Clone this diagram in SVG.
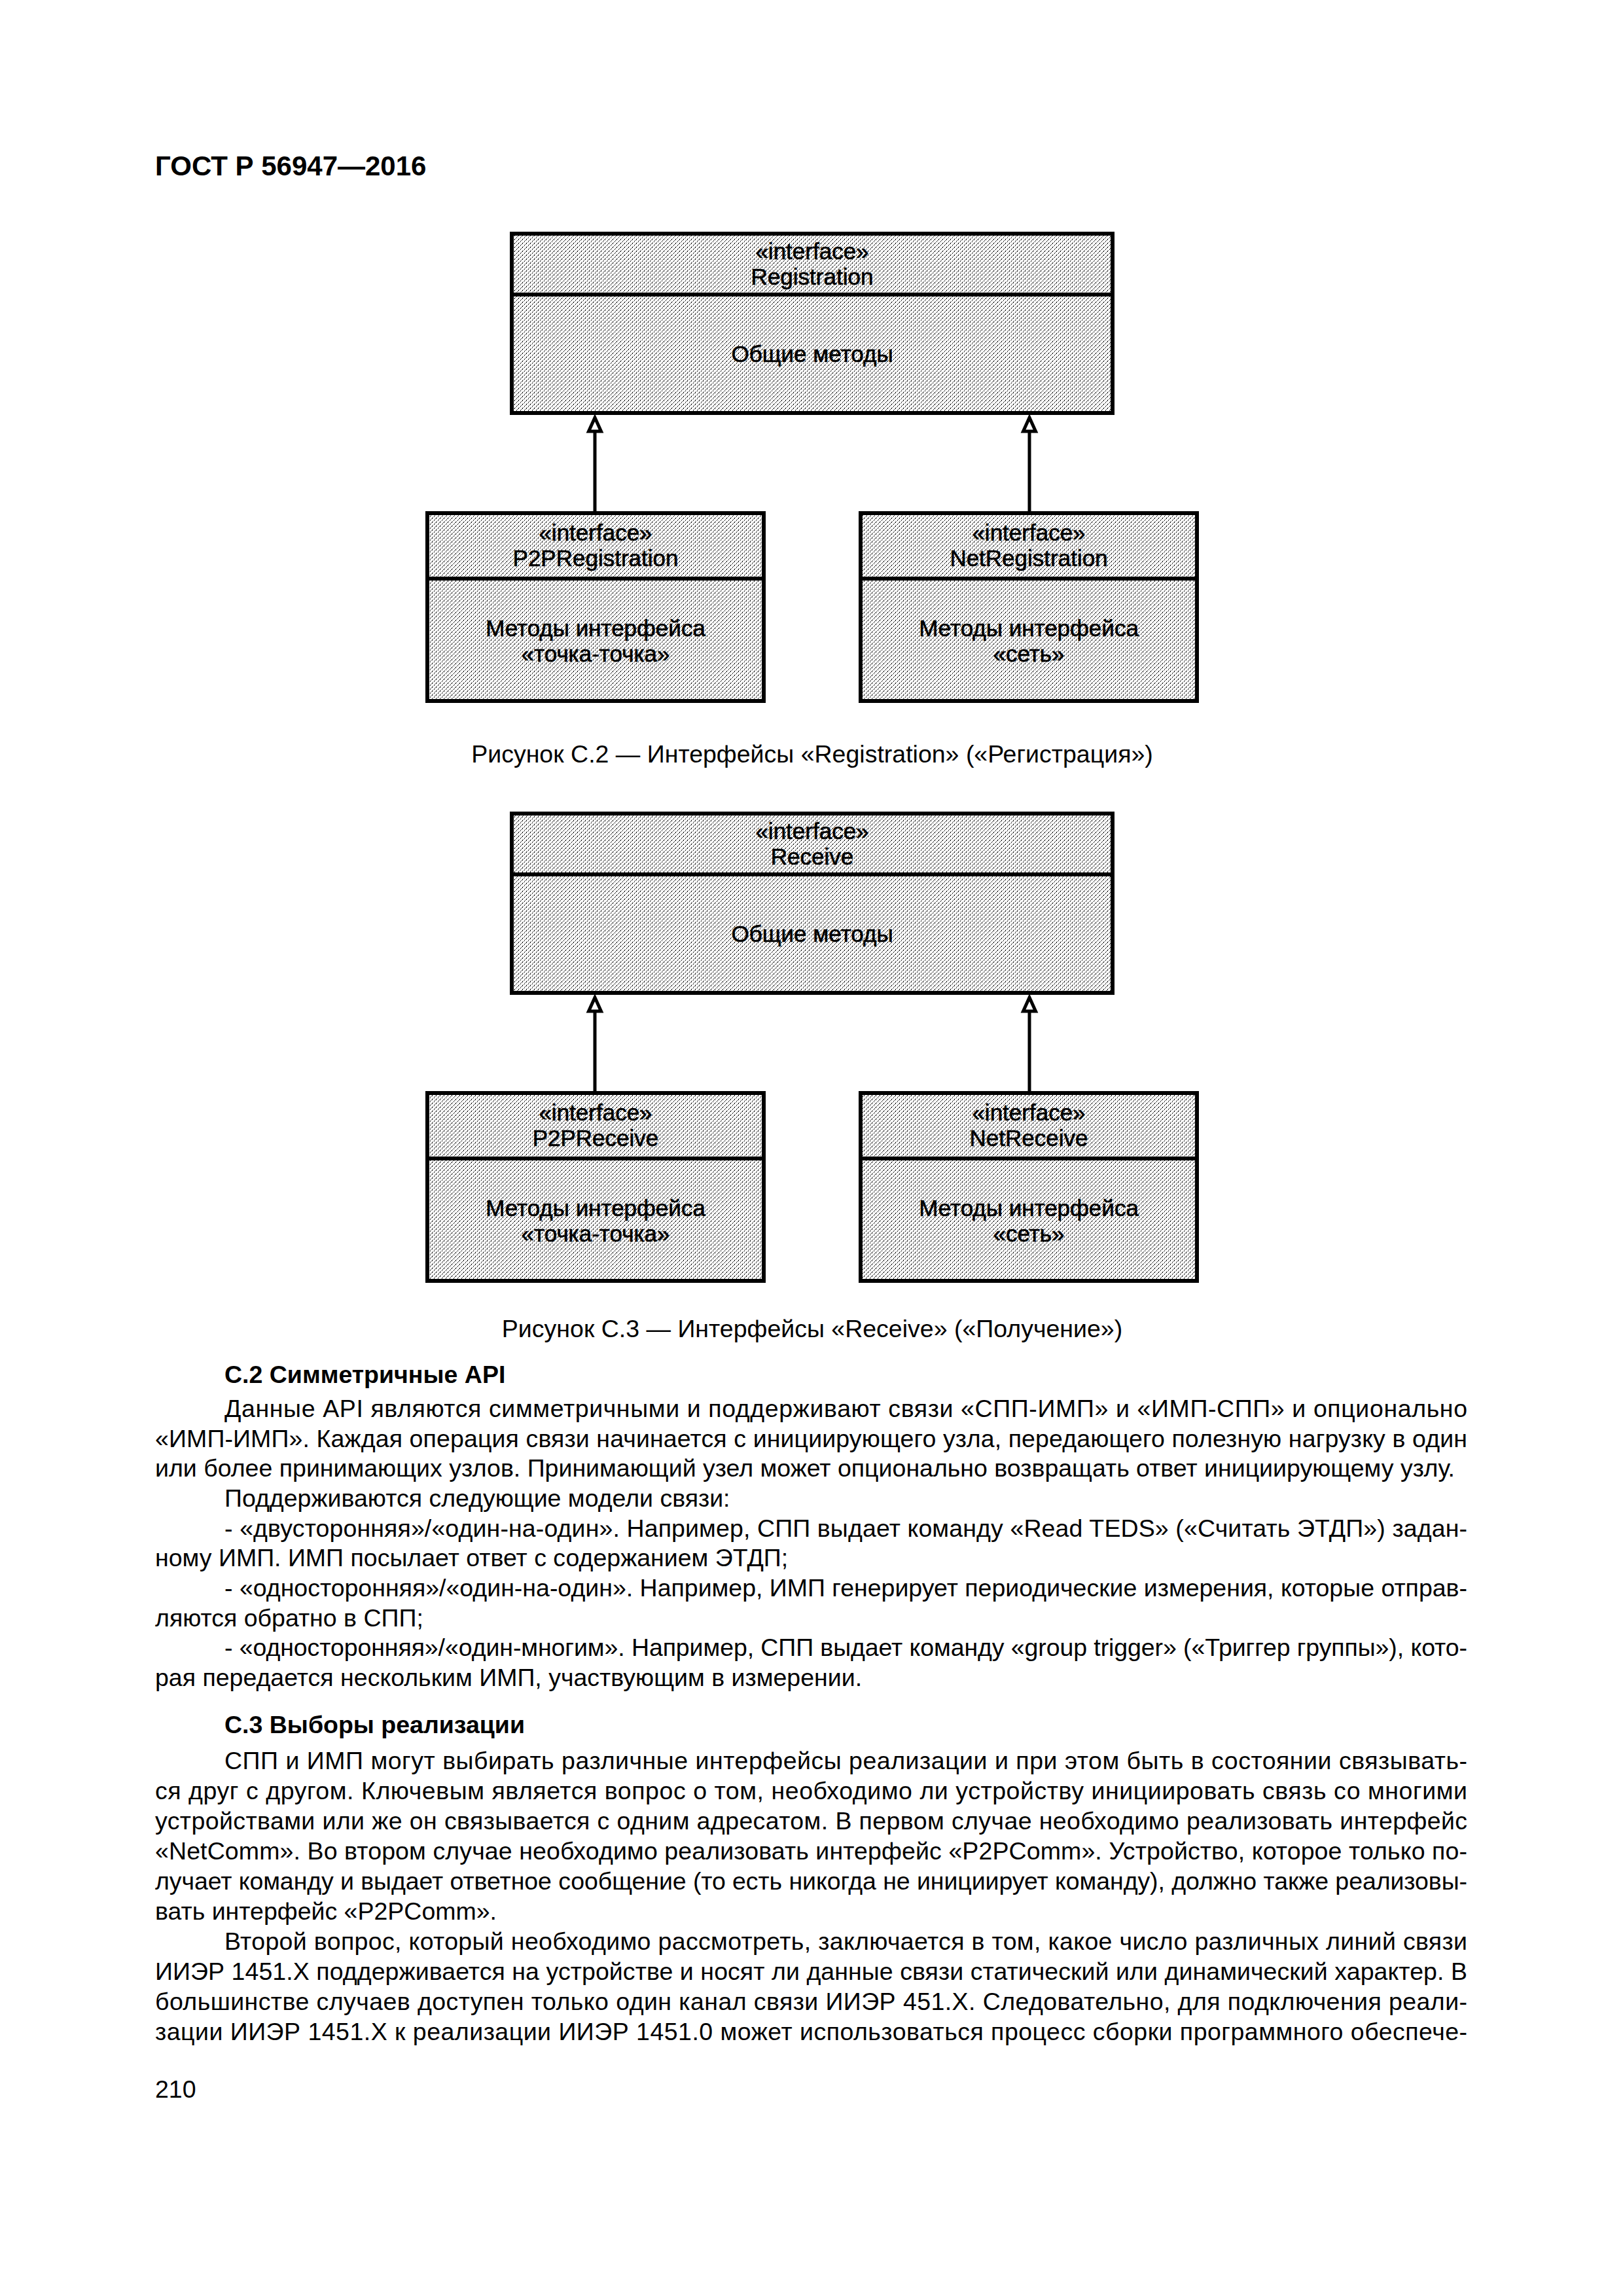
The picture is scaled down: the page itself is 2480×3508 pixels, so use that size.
<svg xmlns="http://www.w3.org/2000/svg" width="2480" height="3508" viewBox="0 0 2480 3508">
<defs>
<pattern id="tex" width="6" height="6" patternUnits="userSpaceOnUse">
<rect width="6" height="6" fill="#ffffff"/>
<rect x="0" y="0" width="1" height="1" fill="#000"/>
<rect x="3" y="3" width="1" height="1" fill="#000"/>
<path d="M0,6 L6,0" stroke="#000" stroke-width="0.9" stroke-dasharray="2.5 2.5"/>
</pattern>
</defs>
<style>
.box{fill:url(#tex);stroke:#000;stroke-width:6}
.div{stroke:#000;stroke-width:6}
.bl{font-family:"Liberation Sans",Arial,sans-serif;font-size:35px;text-anchor:middle;fill:#000;stroke:#000;stroke-width:0.7px}
.edge{stroke:#000;stroke-width:5;fill:none}
.head{fill:#fff;stroke:#000;stroke-width:5;stroke-linejoin:miter}
.t{font-family:"Liberation Sans",Arial,sans-serif;font-size:37.5px;fill:#000}
.h{font-family:"Liberation Sans",Arial,sans-serif;font-size:37.5px;font-weight:bold;fill:#000}
.cap{font-family:"Liberation Sans",Arial,sans-serif;font-size:37.5px;fill:#000;text-anchor:middle}
</style>
<rect width="2480" height="3508" fill="#ffffff"/>
<text x="237" y="268" font-family="Liberation Sans, Arial, sans-serif" font-size="42" font-weight="bold">ГОСТ Р 56947—2016</text>

<g id="connectors">
<line class="edge" x1="909" y1="784" x2="909" y2="659"/>
<path class="head" d="M909,638 L918.5,659 L899.5,659 Z"/>
<line class="edge" x1="1573" y1="784" x2="1573" y2="659"/>
<path class="head" d="M1573,638 L1582.5,659 L1563.5,659 Z"/>
<line class="edge" x1="909" y1="1670" x2="909" y2="1545"/>
<path class="head" d="M909,1524 L918.5,1545 L899.5,1545 Z"/>
<line class="edge" x1="1573" y1="1670" x2="1573" y2="1545"/>
<path class="head" d="M1573,1524 L1582.5,1545 L1563.5,1545 Z"/>
</g>

<g id="Registration">
<rect class="box" x="782" y="357" width="918" height="274"/>
<line class="div" x1="782" y1="450" x2="1700" y2="450"/>
<text class="bl" x="1241" y="396">«interface»</text>
<text class="bl" x="1241" y="435">Registration</text>
<text class="bl" x="1241" y="553">Общие методы</text>
</g>
<g id="P2PRegistration">
<rect class="box" x="653" y="784" width="514" height="287"/>
<line class="div" x1="653" y1="884" x2="1167" y2="884"/>
<text class="bl" x="910" y="826">«interface»</text>
<text class="bl" x="910" y="865">P2PRegistration</text>
<text class="bl" x="910" y="972">Методы интерфейса</text>
<text class="bl" x="910" y="1011">«точка-точка»</text>
</g>
<g id="NetRegistration">
<rect class="box" x="1315" y="784" width="514" height="287"/>
<line class="div" x1="1315" y1="884" x2="1829" y2="884"/>
<text class="bl" x="1572" y="826">«interface»</text>
<text class="bl" x="1572" y="865">NetRegistration</text>
<text class="bl" x="1572" y="972">Методы интерфейса</text>
<text class="bl" x="1572" y="1011">«сеть»</text>
</g>
<text class="cap" x="1241" y="1165">Рисунок С.2 — Интерфейсы «Registration» («Регистрация»)</text>

<g id="Receive">
<rect class="box" x="782" y="1243" width="918" height="274"/>
<line class="div" x1="782" y1="1336" x2="1700" y2="1336"/>
<text class="bl" x="1241" y="1282">«interface»</text>
<text class="bl" x="1241" y="1321">Receive</text>
<text class="bl" x="1241" y="1439">Общие методы</text>
</g>
<g id="P2PReceive">
<rect class="box" x="653" y="1670" width="514" height="287"/>
<line class="div" x1="653" y1="1770" x2="1167" y2="1770"/>
<text class="bl" x="910" y="1712">«interface»</text>
<text class="bl" x="910" y="1751">P2PReceive</text>
<text class="bl" x="910" y="1858">Методы интерфейса</text>
<text class="bl" x="910" y="1897">«точка-точка»</text>
</g>
<g id="NetReceive">
<rect class="box" x="1315" y="1670" width="514" height="287"/>
<line class="div" x1="1315" y1="1770" x2="1829" y2="1770"/>
<text class="bl" x="1572" y="1712">«interface»</text>
<text class="bl" x="1572" y="1751">NetReceive</text>
<text class="bl" x="1572" y="1858">Методы интерфейса</text>
<text class="bl" x="1572" y="1897">«сеть»</text>
</g>
<text class="cap" x="1241" y="2043">Рисунок С.3 — Интерфейсы «Receive» («Получение»)</text>

<text class="h" x="343" y="2113">С.2 Симметричные API</text>
<text class="t" x="343" y="2165" textLength="1899" lengthAdjust="spacing">Данные API являются симметричными и поддерживают связи «СПП-ИМП» и «ИМП-СПП» и опционально</text>
<text class="t" x="237" y="2211" textLength="2005" lengthAdjust="spacing">«ИМП-ИМП». Каждая операция связи начинается с инициирующего узла, передающего полезную нагрузку в один</text>
<text class="t" x="237" y="2256">или более принимающих узлов. Принимающий узел может опционально возвращать ответ инициирующему узлу.</text>
<text class="t" x="343" y="2302">Поддерживаются следующие модели связи:</text>
<text class="t" x="343" y="2348" textLength="1899" lengthAdjust="spacing">-  «двусторонняя»/«один-на-один». Например, СПП выдает команду «Read TEDS» («Считать ЭТДП») задан-</text>
<text class="t" x="237" y="2393">ному ИМП. ИМП посылает ответ с содержанием ЭТДП;</text>
<text class="t" x="343" y="2439" textLength="1899" lengthAdjust="spacing">-  «односторонняя»/«один-на-один». Например, ИМП генерирует периодические измерения, которые отправ-</text>
<text class="t" x="237" y="2485">ляются обратно в СПП;</text>
<text class="t" x="343" y="2530" textLength="1899" lengthAdjust="spacing">-  «односторонняя»/«один-многим». Например, СПП выдает команду «group trigger» («Триггер группы»), кото-</text>
<text class="t" x="237" y="2576">рая передается нескольким ИМП, участвующим в измерении.</text>

<text class="h" x="343" y="2648">С.3 Выборы реализации</text>
<text class="t" x="343" y="2703" textLength="1899" lengthAdjust="spacing">СПП и ИМП могут выбирать различные интерфейсы реализации и при этом быть в состоянии связывать-</text>
<text class="t" x="237" y="2749" textLength="2005" lengthAdjust="spacing">ся друг с другом. Ключевым является вопрос о том, необходимо ли устройству инициировать связь со многими</text>
<text class="t" x="237" y="2795" textLength="2005" lengthAdjust="spacing">устройствами или же он связывается с одним адресатом. В первом случае необходимо реализовать интерфейс</text>
<text class="t" x="237" y="2841" textLength="2005" lengthAdjust="spacing">«NetComm». Во втором случае необходимо реализовать интерфейс «P2PComm». Устройство, которое только по-</text>
<text class="t" x="237" y="2887" textLength="2005" lengthAdjust="spacing">лучает команду и выдает ответное сообщение (то есть никогда не инициирует команду), должно также реализовы-</text>
<text class="t" x="237" y="2933">вать интерфейс «P2PComm».</text>
<text class="t" x="343" y="2979" textLength="1899" lengthAdjust="spacing">Второй вопрос, который необходимо рассмотреть, заключается в том, какое число различных линий связи</text>
<text class="t" x="237" y="3025" textLength="2005" lengthAdjust="spacing">ИИЭР 1451.X поддерживается на устройстве и носят ли данные связи статический или динамический характер. В</text>
<text class="t" x="237" y="3071" textLength="2005" lengthAdjust="spacing">большинстве случаев доступен только один канал связи ИИЭР 451.X. Следовательно, для подключения реали-</text>
<text class="t" x="237" y="3117" textLength="2005" lengthAdjust="spacing">зации ИИЭР 1451.X к реализации ИИЭР 1451.0 может использоваться процесс сборки программного обеспече-</text>

<text class="t" x="237" y="3205">210</text>
</svg>
